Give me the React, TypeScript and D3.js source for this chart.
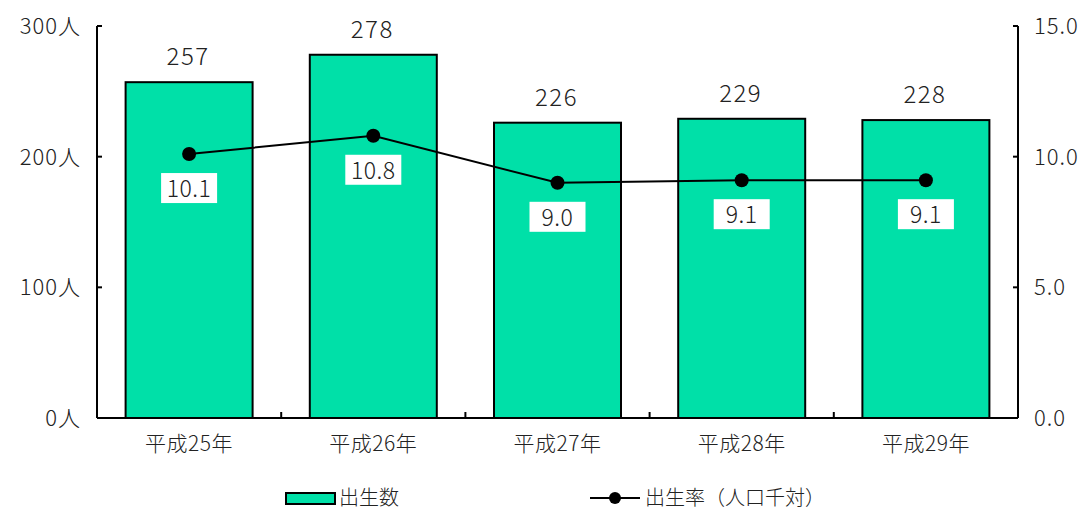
import React from "react";
import * as d3 from "d3";

const categories = ["平成25年", "平成26年", "平成27年", "平成28年", "平成29年"];
const births = [257, 278, 226, 229, 228];
const rates = [10.1, 10.8, 9.0, 9.1, 9.1];
const leftTicks = [0, 100, 200, 300];
const rightTicks = [0, 5, 10, 15];

const W = 1089, H = 510;
const ml = 97, mr = 1018, mt = 26, mb = 418;
const FONT = "'Noto Sans CJK JP', 'Noto Sans', sans-serif";
const BAR = "#00E0A8";

export default function App() {
  const yL = d3.scaleLinear().domain([0, 300]).range([mb, mt]);
  const yR = d3.scaleLinear().domain([0, 15]).range([mb, mt]);
  const bandStep = (mr - ml) / categories.length;
  const cx = (i: number) => ml + bandStep * (i + 0.5);
  const line = d3.line<number>().x((_, i) => cx(i)).y((d) => yR(d));

  return (
    <div style={{ position: "absolute", left: 0, top: 0 }}>
      <svg width={W} height={H} style={{ display: "block", fontFamily: FONT, fontWeight: 300 }}>
        <rect width={W} height={H} fill="#fff" />
        {births.map((b, i) => (
          <g key={i}>
            <rect x={cx(i) - 63.5} y={yL(b)} width={127} height={mb - yL(b)} fill={BAR} stroke="#000" strokeWidth={2} />
            <text x={cx(i) - 1} y={yL(b) - 17} textAnchor="middle" fontSize={24} letterSpacing={1.5} fill="#222">{b}</text>
          </g>
        ))}
        <line x1={ml} y1={mt} x2={ml} y2={mb} stroke="#000" strokeWidth={2} />
        <line x1={mr} y1={mt} x2={mr} y2={mb} stroke="#000" strokeWidth={2} />
        <line x1={ml} y1={mb} x2={mr} y2={mb} stroke="#000" strokeWidth={2} />
        {leftTicks.map((t) => (
          <g key={"l" + t}>
            <line x1={ml} x2={ml + 5} y1={yL(t)} y2={yL(t)} stroke="#000" strokeWidth={2} />
            <text x={81} y={yL(t) + 8} textAnchor="end" fontSize={22} letterSpacing={1} fill="#222">{t}人</text>
          </g>
        ))}
        {rightTicks.map((t) => (
          <g key={"r" + t}>
            <line x1={mr} x2={mr - 5} y1={yR(t)} y2={yR(t)} stroke="#000" strokeWidth={2} />
            <text x={1034} y={yR(t) + 8} textAnchor="start" fontSize={22} letterSpacing={1} fill="#222">{t.toFixed(1)}</text>
          </g>
        ))}
        {d3.range(1, categories.length).map((i) => (
          <line key={"s" + i} x1={ml + bandStep * i} x2={ml + bandStep * i} y1={mb} y2={mb - 6} stroke="#000" strokeWidth={2} />
        ))}
        {categories.map((c, i) => (
          <text key={c} x={cx(i)} y={451} textAnchor="middle" fontSize={21} letterSpacing={0.5} fill="#222">{c}</text>
        ))}
        <path d={line(rates) || ""} fill="none" stroke="#000" strokeWidth={2} />
        {rates.map((r, i) => (
          <g key={"p" + i}>
            <circle cx={cx(i)} cy={yR(r)} r={7} fill="#000" />
            <rect x={cx(i) - 28} y={yR(r) + 19} width={56} height={30} fill="#fff" />
            <text x={cx(i)} y={yR(r) + 43} textAnchor="middle" fontSize={23} letterSpacing={0.5} fill="#222">{r.toFixed(1)}</text>
          </g>
        ))}
        <rect x={286} y={493} width={49} height={11} fill={BAR} stroke="#000" strokeWidth={2} />
        <text x={339} y={505} fontSize={20} fill="#222">出生数</text>
        <line x1={590} x2={640} y1={498} y2={498} stroke="#000" strokeWidth={2} />
        <circle cx={615} cy={498} r={6} fill="#000" />
        <text x={645} y={505} fontSize={20} fill="#222">出生率（人口千対）</text>
      </svg>
    </div>
  );
}
